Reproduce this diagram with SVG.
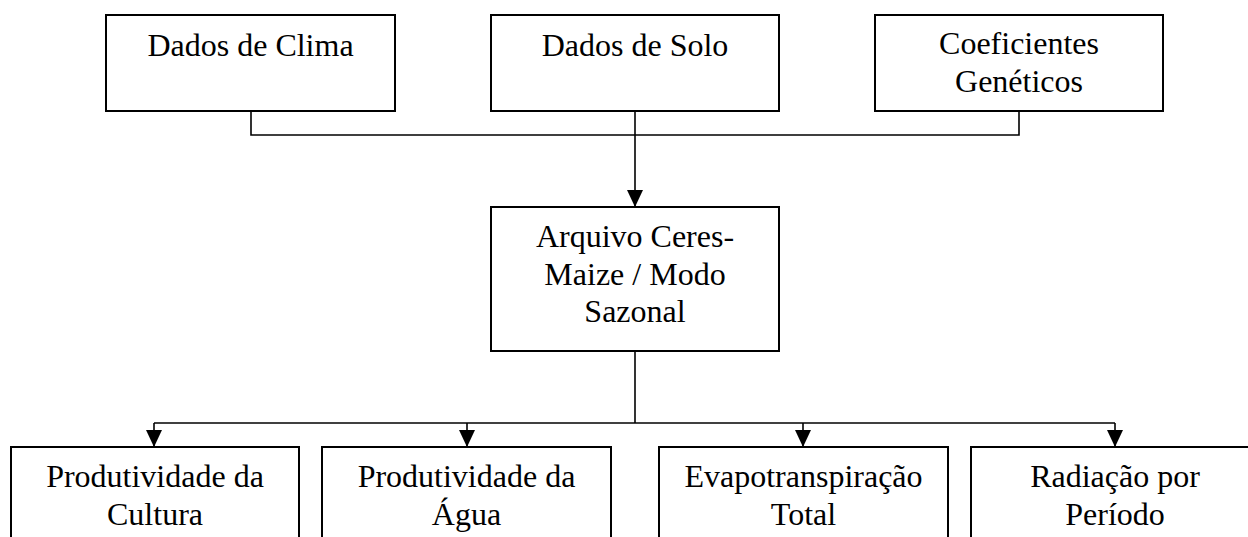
<svg xmlns="http://www.w3.org/2000/svg" width="1248" height="537" viewBox="0 0 1248 537">
<style>
.box{fill:#fff;stroke:#000;stroke-width:2}
.t{font-family:'Liberation Serif','Times New Roman',Times,serif;font-size:32px;fill:#000;text-anchor:middle}
.ln{fill:none;stroke:#000;stroke-width:1.6}
</style>
<defs>
<marker id="ah" markerWidth="17" markerHeight="16" refX="17" refY="8" orient="auto" markerUnits="userSpaceOnUse" viewBox="0 0 17 16">
<path d="M0,0 L17,8 L0,16 Z" fill="#000"/>
</marker>
</defs>
<rect width="1248" height="537" fill="#fff"/>
<g id="connectors">
<path class="ln" d="M251,111 V135 H1019 V111"/>
<path class="ln" d="M635,111 V207" marker-end="url(#ah)"/>
<path class="ln" d="M635,351 V423"/>
<path class="ln" d="M154,423 H1115"/>
<path class="ln" d="M154,423 V447" marker-end="url(#ah)"/>
<path class="ln" d="M467,423 V447" marker-end="url(#ah)"/>
<path class="ln" d="M803,423 V447" marker-end="url(#ah)"/>
<path class="ln" d="M1115,423 V447" marker-end="url(#ah)"/>
</g>
<g font-family="'Liberation Serif', 'Times New Roman', Times, serif">
<g id="n-clima"><rect class="box" x="106" y="15" width="289" height="96"/><text class="t" x="250.5" y="56">Dados de Clima</text></g>
<g id="n-solo"><rect class="box" x="491" y="15" width="288" height="96"/><text class="t" x="635" y="56">Dados de Solo</text></g>
<g id="n-coef"><rect class="box" x="875" y="15" width="288" height="96"/><text class="t" x="1019" y="54">Coeficientes</text><text class="t" x="1019" y="92">Genéticos</text></g>
<g id="n-ceres"><rect class="box" x="491" y="207" width="288" height="144"/><text class="t" x="635" y="247">Arquivo Ceres-</text><text class="t" x="635" y="285">Maize / Modo</text><text class="t" x="635" y="322">Sazonal</text></g>
<g id="n-prodcult"><rect class="box" x="11" y="447" width="288" height="110"/><text class="t" x="155" y="487">Produtividade da</text><text class="t" x="155" y="525">Cultura</text></g>
<g id="n-prodagua"><rect class="box" x="322" y="447" width="289" height="110"/><text class="t" x="466.5" y="487">Produtividade da</text><text class="t" x="466.5" y="525">Água</text></g>
<g id="n-evapo"><rect class="box" x="659" y="447" width="289" height="110"/><text class="t" x="803.5" y="487">Evapotranspiração</text><text class="t" x="803.5" y="525">Total</text></g>
<g id="n-rad"><rect class="box" x="971" y="447" width="288" height="110"/><text class="t" x="1115" y="487">Radiação por</text><text class="t" x="1115" y="525">Período</text></g>
</g>
</svg>
